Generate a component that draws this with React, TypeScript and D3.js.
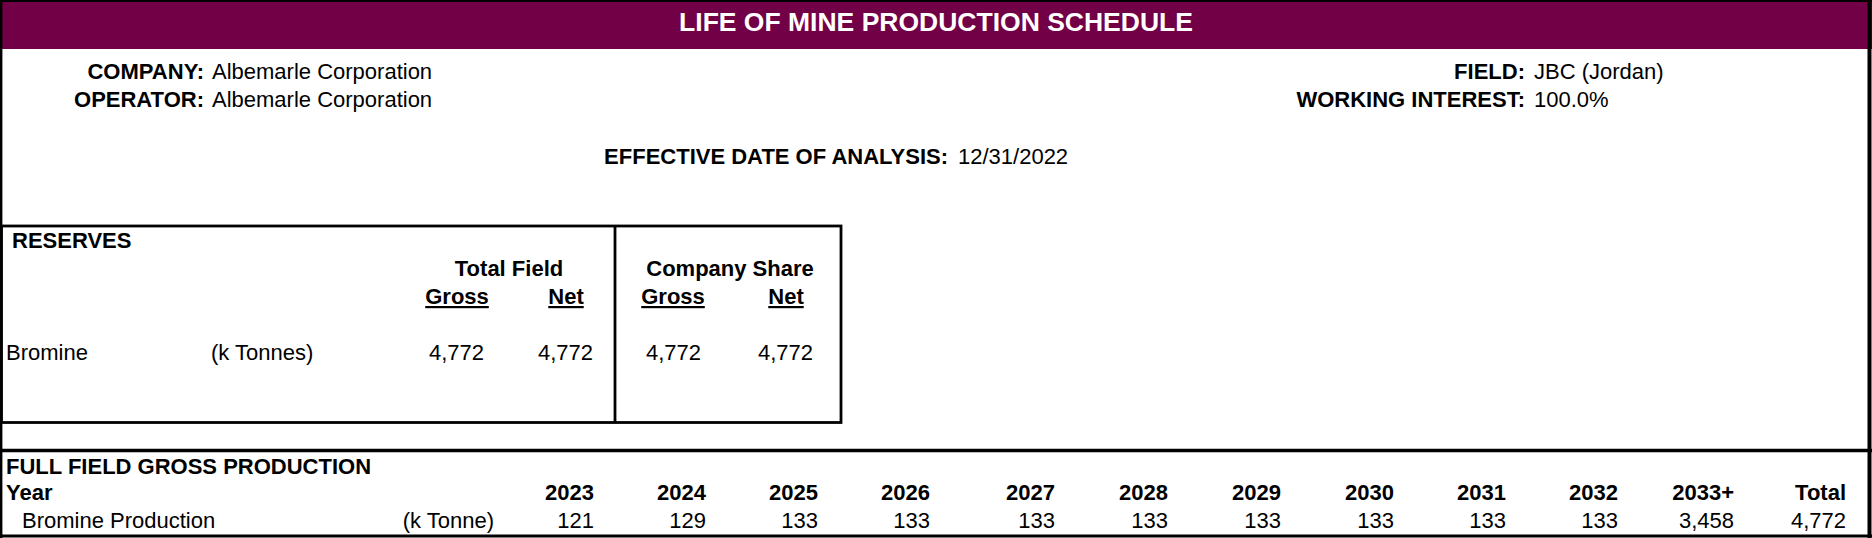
import React from "react";
import * as d3 from "d3";

const title = "LIFE OF MINE PRODUCTION SCHEDULE";
const leftInfoLabels = ["COMPANY:", "OPERATOR:"];
const leftInfoValues = ["Albemarle Corporation", "Albemarle Corporation"];
const rightInfoLabels = ["FIELD:", "WORKING INTEREST:"];
const rightInfoValues = ["JBC (Jordan)", "100.0%"];
const dateLabel = "EFFECTIVE DATE OF ANALYSIS:";
const dateValue = "12/31/2022";

const reserveGroups = ["Total Field", "Company Share"];
const reserveColumns = ["Gross", "Net", "Gross", "Net"];
const reserveProduct = "Bromine";
const reserveUnit = "(k Tonnes)";
const reserveValues = [4772, 4772, 4772, 4772];

const productionYears = ["2023", "2024", "2025", "2026", "2027", "2028", "2029", "2030", "2031", "2032", "2033+", "Total"];
const productionLabel = "Bromine Production";
const productionUnit = "(k Tonne)";
const productionValues = [121, 129, 133, 133, 133, 133, 133, 133, 133, 133, 3458, 4772];

const W = 1872;
const H = 538;
const MAROON = "#720046";
const FONT = "'Liberation Sans', Arial, Helvetica, sans-serif";
const FS = 22;

export default function App() {
  const fmt = d3.format(",");
  const yearX = d3.scaleOrdinal<string, number>()
    .domain(productionYears)
    .range([594, 706, 818, 930, 1055, 1168, 1281, 1394, 1506, 1618, 1734, 1846]);
  const resX = d3.scaleOrdinal<number, number>()
    .domain([0, 1, 2, 3])
    .range([484, 593, 701, 813]);
  const resHeadX = d3.scaleOrdinal<number, number>()
    .domain([0, 1, 2, 3])
    .range([457, 566, 673, 786]);
  const groupX = d3.scaleOrdinal<number, number>().domain([0, 1]).range([509, 730]);
  const infoY = d3.scaleOrdinal<number, number>().domain([0, 1]).range([79, 107]);

  const txt = { fontFamily: FONT, fontSize: FS, fill: "#000" } as const;

  return (
    <svg width={W} height={H} style={{ position: "absolute", left: 0, top: 0, background: "#fff" }}>
      <rect x={0} y={0} width={W} height={H} fill="#fff" />
      {/* header band */}
      <rect x={0} y={0} width={W} height={49} fill={MAROON} />
      <text x={W / 2} y={31} textAnchor="middle" style={{ ...txt, fontSize: 26.5, fontWeight: "bold", fill: "#fff" }}>{title}</text>

      {/* info */}
      {leftInfoLabels.map((l, i) => (
        <g key={"li" + i}>
          <text x={204} y={infoY(i)} textAnchor="end" style={{ ...txt, fontWeight: "bold" }}>{l}</text>
          <text x={212} y={infoY(i)} style={txt}>{leftInfoValues[i]}</text>
        </g>
      ))}
      {rightInfoLabels.map((l, i) => (
        <g key={"ri" + i}>
          <text x={1525} y={infoY(i)} textAnchor="end" style={{ ...txt, fontWeight: "bold" }}>{l}</text>
          <text x={1534} y={infoY(i)} style={txt}>{rightInfoValues[i]}</text>
        </g>
      ))}
      <text x={948} y={164} textAnchor="end" style={{ ...txt, fontWeight: "bold" }}>{dateLabel}</text>
      <text x={958} y={164} style={txt}>{dateValue}</text>

      {/* reserves box */}
      <text x={12} y={248} style={{ ...txt, fontWeight: "bold" }}>RESERVES</text>
      {reserveGroups.map((g, i) => (
        <text key={"g" + i} x={groupX(i)} y={276} textAnchor="middle" style={{ ...txt, fontWeight: "bold" }}>{g}</text>
      ))}
      {reserveColumns.map((c, i) => (
        <text key={"c" + i} x={resHeadX(i)} y={304} textAnchor="middle" style={{ ...txt, fontWeight: "bold", textDecoration: "underline" }}>{c}</text>
      ))}
      <text x={6} y={360} style={txt}>{reserveProduct}</text>
      <text x={211} y={360} style={txt}>{reserveUnit}</text>
      {reserveValues.map((v, i) => (
        <text key={"rv" + i} x={resX(i)} y={360} textAnchor="end" style={txt}>{fmt(v)}</text>
      ))}
      <rect x={1.5} y={226} width={839.5} height={196.5} fill="none" stroke="#000" strokeWidth={2.8} />
      <line x1={615} x2={615} y1={226} y2={422.5} stroke="#000" strokeWidth={2.8} />

      {/* production */}
      <line x1={0} x2={W} y1={450.5} y2={450.5} stroke="#000" strokeWidth={3.6} />
      <text x={6} y={474} style={{ ...txt, fontWeight: "bold" }}>FULL FIELD GROSS PRODUCTION</text>
      <text x={6} y={500} style={{ ...txt, fontWeight: "bold" }}>Year</text>
      {productionYears.map((y) => (
        <text key={"y" + y} x={yearX(y)} y={500} textAnchor="end" style={{ ...txt, fontWeight: "bold" }}>{y}</text>
      ))}
      <text x={22} y={528} style={txt}>{productionLabel}</text>
      <text x={494} y={528} textAnchor="end" style={txt}>{productionUnit}</text>
      {productionValues.map((v, i) => (
        <text key={"pv" + i} x={yearX(productionYears[i])} y={528} textAnchor="end" style={txt}>{fmt(v)}</text>
      ))}

      {/* outer border */}
      <line x1={0} x2={W} y1={1} y2={1} stroke="#000" strokeWidth={2} />
      <line x1={1.2} x2={1.2} y1={0} y2={H} stroke="#000" strokeWidth={2.4} />
      <line x1={1869.5} x2={1869.5} y1={0} y2={H} stroke="#000" strokeWidth={4} />
      <line x1={0} x2={W} y1={536} y2={536} stroke="#000" strokeWidth={3} />
    </svg>
  );
}
